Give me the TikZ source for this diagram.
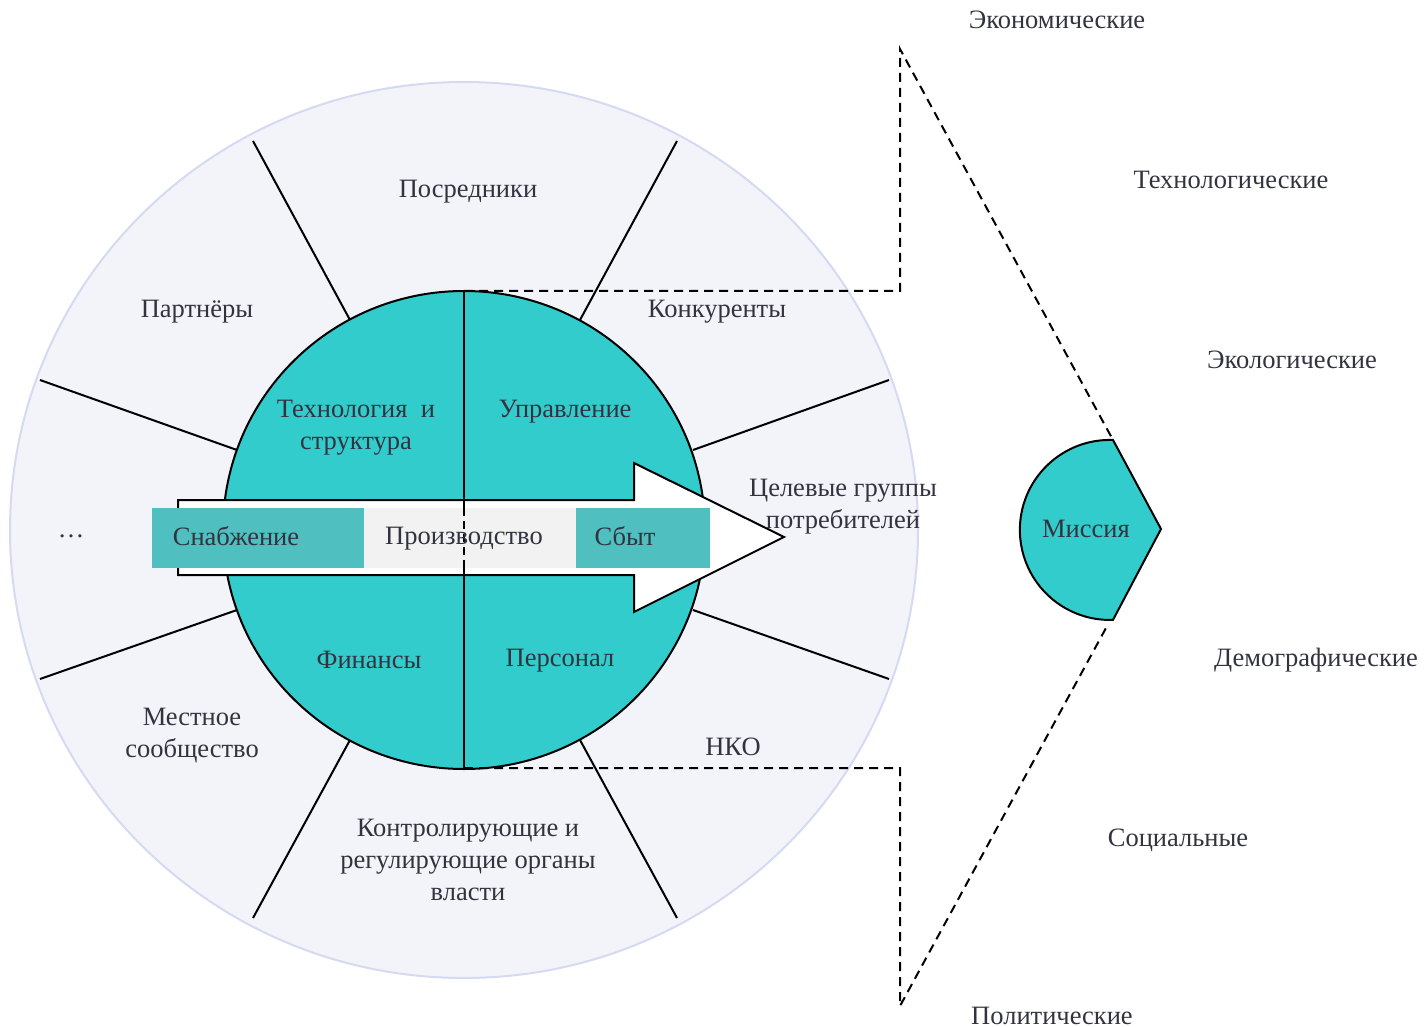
\documentclass[tikz,border=0pt]{standalone}
\usepackage{fontspec}
\setmainfont{Liberation Serif}
\definecolor{teal1}{RGB}{51,204,204}
\definecolor{teal2}{RGB}{79,191,191}
\definecolor{outerfill}{RGB}{243,244,250}
\definecolor{outerline}{RGB}{212,218,242}
\definecolor{txt}{RGB}{51,51,64}
\definecolor{graybox}{RGB}{242,242,242}
\begin{document}
\begin{tikzpicture}[x=1pt,y=-1pt,
  lbl/.style={text=txt,font=\fontsize{26.5}{32}\selectfont,align=center,inner sep=0pt,anchor=base},
  spoke/.style={line width=2pt,black},
  dashline/.style={line width=2pt,black,dash pattern=on 9pt off 6pt},
  band/.style={inner sep=0pt,minimum height=60pt,draw=none}]
\useasboundingbox (0,0) rectangle (1425,1027);
% outer ring
\draw[fill=outerfill,draw=outerline,line width=2pt] (464,530) ellipse [x radius=454, y radius=448];
% spokes
\coordinate (s1a) at (253,141); \coordinate (s1b) at (350,320);
\coordinate (s2a) at (677,141); \coordinate (s2b) at (580,320);
\coordinate (s3a) at (40,380);  \coordinate (s3b) at (237,450);
\coordinate (s4a) at (889,380); \coordinate (s4b) at (693,450);
\coordinate (s5a) at (40,679);  \coordinate (s5b) at (237,610);
\coordinate (s6a) at (889,679); \coordinate (s6b) at (693,610);
\coordinate (s7a) at (253,918); \coordinate (s7b) at (350,740);
\coordinate (s8a) at (677,918); \coordinate (s8b) at (580,740);
\foreach \i in {1,...,8} { \draw[spoke] (s\i a) -- (s\i b); }
% inner circle
\draw[fill=teal1,line width=2pt] (464,530) ellipse [x radius=241, y radius=239];
\coordinate (vtop) at (464,291);
\coordinate (vbot) at (464,768);
\draw[line width=2pt] (vtop) -- (vbot);
% arrow
\draw[fill=white,line width=2pt,line join=miter] (178,500) -- (634,500) -- (634,463) -- (784,537) -- (634,612) -- (634,575) -- (178,575) -- cycle;
% bands
\node[band,fill=teal2,minimum width=212pt,anchor=north west] (snab) at (152,508) {};
\node[band,fill=graybox,minimum width=212pt,anchor=north west] (proizv) at (364,508) {};
\node[band,fill=teal2,minimum width=134pt,anchor=north west] (sbyt) at (576,508) {};
\coordinate (a1) at (464,500);
\coordinate (a2) at (464,508);
\coordinate (a3) at (464,568);
\coordinate (a4) at (464,575);
\draw[line width=2pt] (a1) -- (a2);
\draw[line width=2pt] (a3) -- (a4);
\draw[line width=2pt,dash pattern=on 8pt off 5pt] (a2) -- (a3);
\node[lbl] (tsnab) at (236,545) {Снабжение};
\node[lbl] (tproizv) at (464,544) {Производство};
\node[lbl] (tsbyt) at (625,545) {Сбыт};
% inner labels (multi-line nodes: base = last line)
\node[lbl] (tech) at (356,449) {Технология\ \ и\\структура};
\node[lbl] (upr) at (565,417) {Управление};
\node[lbl] (fin) at (369,668) {Финансы};
\node[lbl] (pers) at (560,666) {Персонал};
% outer labels
\node[lbl] (posr) at (468,198) {Посредники};
\node[lbl] (partn) at (197,317) {Партнёры};
\node[lbl] (konk) at (717,317) {Конкуренты};
\node[lbl] (celev) at (843,528) {Целевые группы\\потребителей};
\node[lbl] (dots) at (71,537) {…};
\node[lbl] (mestn) at (192,757) {Местное\\сообщество};
\node[lbl] (kontr) at (468,900) {Контролирующие и\\регулирующие органы\\власти};
\node[lbl] (nko) at (733,755) {НКО};
% right labels
\node[lbl] (ekon) at (1057,29) {Экономические};
\node[lbl] (tekhn) at (1231,189) {Технологические};
\node[lbl] (ekol) at (1292,368) {Экологические};
\node[lbl] (demo) at (1316,666) {Демографические};
\node[lbl] (soc) at (1178,846) {Социальные};
\node[lbl] (polit) at (1052,1024) {Политические};
% mission
\coordinate (mtop) at (1113,440);
\coordinate (mbot) at (1110,620);
\coordinate (mtip) at (1161,529);
\draw[fill=teal1,line width=2pt,line join=miter] (mtop) arc[start angle=-88, end angle=-272, radius=90] -- (mtip) -- cycle;
\node[lbl] (miss) at (1086,537) {Миссия};
% dashed projection
\coordinate (c1) at (900,291);
\coordinate (c2) at (900,49);
\coordinate (c3) at (900,768);
\coordinate (c4) at (900,1006);
\coordinate (mbot2) at (1106,628);
\draw[dashline] (vtop) -- (c1) -- (c2) -- (mtop);
\draw[dashline] (vbot) -- (c3) -- (c4) -- (mbot2);
\end{tikzpicture}
\end{document}
